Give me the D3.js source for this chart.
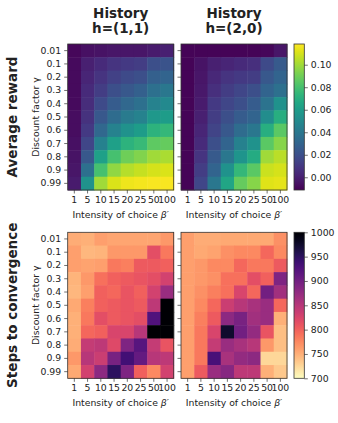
<!DOCTYPE html>
<html>
<head>
<meta charset="utf-8">
<script src="https://cdn.jsdelivr.net/npm/d3@7"></script>
<style>
  body { margin: 0; background: #fff; }
  svg text { font-family: "DejaVu Sans", sans-serif; fill: #222; }
</style>
</head>
<body>
<div id="chart"></div>
<script>
// axis categories
const betas = ["1", "5", "10", "15", "20", "25", "50", "100"];
const gammas = ["0.01", "0.1", "0.2", "0.3", "0.4", "0.5", "0.6", "0.7", "0.8", "0.9", "0.99"];
const historyTitles = ["h=(1,1)", "h=(2,0)"];

// average reward, rows = gamma, cols = beta
const rewardH11 = [
  [-0.009, -0.006, -0.005, -0.004, -0.004, -0.004, -0.002, 0.000],
  [-0.008, 0.000, 0.004, 0.008, 0.010, 0.012, 0.020, 0.022],
  [-0.008, 0.002, 0.008, 0.014, 0.018, 0.020, 0.028, 0.030],
  [-0.008, 0.004, 0.012, 0.020, 0.024, 0.028, 0.036, 0.040],
  [-0.008, 0.005, 0.018, 0.026, 0.032, 0.036, 0.046, 0.050],
  [-0.007, 0.007, 0.024, 0.034, 0.042, 0.046, 0.058, 0.060],
  [-0.007, 0.010, 0.032, 0.046, 0.055, 0.060, 0.072, 0.075],
  [-0.006, 0.016, 0.045, 0.062, 0.072, 0.076, 0.086, 0.088],
  [-0.005, 0.024, 0.062, 0.080, 0.090, 0.094, 0.100, 0.102],
  [-0.004, 0.036, 0.080, 0.097, 0.104, 0.107, 0.110, 0.111],
  [-0.002, 0.055, 0.100, 0.111, 0.115, 0.116, 0.117, 0.117]
];
const rewardH20 = [
  [-0.010, -0.010, -0.010, -0.010, -0.010, -0.010, -0.009, -0.004],
  [-0.010, -0.005, 0.000, 0.002, 0.004, 0.006, 0.018, 0.025],
  [-0.010, -0.004, 0.003, 0.008, 0.010, 0.012, 0.024, 0.030],
  [-0.010, -0.003, 0.006, 0.012, 0.016, 0.020, 0.030, 0.036],
  [-0.010, -0.002, 0.010, 0.016, 0.020, 0.026, 0.038, 0.055],
  [-0.010, 0.000, 0.012, 0.020, 0.026, 0.030, 0.052, 0.070],
  [-0.010, 0.002, 0.015, 0.024, 0.034, 0.040, 0.070, 0.085],
  [-0.010, 0.004, 0.020, 0.030, 0.045, 0.055, 0.085, 0.095],
  [-0.010, 0.008, 0.025, 0.040, 0.056, 0.068, 0.100, 0.105],
  [-0.010, 0.012, 0.030, 0.055, 0.075, 0.085, 0.108, 0.110],
  [-0.010, 0.016, 0.040, 0.065, 0.088, 0.095, 0.112, 0.113]
];

// steps to convergence
const stepsH11 = [
  [752, 750, 760, 757, 757, 757, 757, 765],
  [760, 745, 748, 765, 765, 765, 815, 785],
  [760, 758, 760, 785, 780, 805, 805, 800],
  [748, 765, 790, 800, 805, 810, 815, 830],
  [745, 760, 800, 795, 810, 800, 830, 870],
  [755, 780, 800, 805, 810, 805, 845, 1000],
  [750, 785, 815, 805, 810, 815, 925, 1000],
  [750, 795, 800, 825, 825, 850, 1000, 1000],
  [752, 840, 845, 820, 890, 920, 840, 810],
  [765, 850, 835, 895, 935, 910, 850, 845],
  [755, 830, 880, 950, 890, 800, 775, 830]
];
const stepsH20 = [
  [760, 752, 752, 755, 755, 755, 755, 770],
  [760, 755, 758, 770, 775, 775, 795, 775],
  [760, 765, 775, 775, 795, 785, 785, 805],
  [760, 765, 770, 790, 790, 815, 800, 890],
  [760, 770, 780, 790, 825, 795, 900, 865],
  [760, 775, 795, 835, 850, 860, 870, 795],
  [760, 780, 805, 880, 895, 865, 870, 750],
  [760, 785, 825, 975, 900, 875, 810, 740],
  [760, 785, 840, 870, 860, 850, 765, 740],
  [760, 785, 930, 860, 875, 880, 725, 725],
  [760, 805, 870, 885, 845, 845, 750, 735]
];

const rewardTicks = [0.00, 0.02, 0.04, 0.06, 0.08, 0.10];
const stepsTicks = [700, 750, 800, 850, 900, 950, 1000];

const width = 338, height = 423;
const panelX = [67.7, 181];
const panelW = 106, panelH = 146;
const rowY = [44, 232.3];
const cbX = 294, cbW = 10.3;
const tickFont = '9.3px';

const svg = d3.select('#chart').append('svg')
  .attr('width', width)
  .attr('height', height);

const x = d3.scaleBand().domain(betas).range([0, panelW]);
const y = d3.scaleBand().domain(gammas).range([0, panelH]);

const rewardColor = d3.scaleSequential(d3.interpolateViridis).domain([-0.0113, 0.1184]);
const stepsColor = d3.scaleSequential(d3.interpolateMagma).domain([1000, 700]);

const rows = [
  { label: 'Average reward', data: [rewardH11, rewardH20], color: rewardColor, ticks: rewardTicks,
    domain: [-0.0113, 0.1184], fmt: d3.format('.2f') },
  { label: 'Steps to convergence', data: [stepsH11, stepsH20], color: stepsColor, ticks: stepsTicks,
    domain: [700, 1000], fmt: d3.format('d') }
];

// column titles
historyTitles.forEach((t, i) => {
  const cx = panelX[i] + panelW / 2;
  const title = svg.append('text')
    .attr('x', cx)
    .attr('text-anchor', 'middle')
    .style('font-size', '13.5px')
    .style('font-weight', 'bold');
  title.append('tspan').attr('x', cx).attr('y', 17.5).text('History');
  title.append('tspan').attr('x', cx).attr('y', 32.5).text(t);
});

const defs = svg.append('defs');

rows.forEach((row, r) => {
  const top = rowY[r];

  // row label
  svg.append('text')
    .attr('transform', `translate(16.5,${top + panelH / 2}) rotate(-90)`)
    .attr('text-anchor', 'middle')
    .style('font-size', '13.5px')
    .style('font-weight', 'bold')
    .text(row.label);

  // y axis label
  svg.append('text')
    .attr('transform', `translate(38.5,${top + panelH / 2}) rotate(-90)`)
    .attr('text-anchor', 'middle')
    .style('font-size', tickFont)
    .text('Discount factor γ');

  row.data.forEach((grid, c) => {
    const g = svg.append('g').attr('transform', `translate(${panelX[c]},${top})`);

    const cells = [];
    grid.forEach((vals, gi) => vals.forEach((v, bi) => cells.push({ g: gammas[gi], b: betas[bi], v })));

    g.selectAll('rect.cell')
      .data(cells)
      .enter()
      .append('rect')
      .attr('class', 'cell')
      .attr('x', d => x(d.b))
      .attr('y', d => y(d.g))
      .attr('width', x.bandwidth() + 0.5)
      .attr('height', y.bandwidth() + 0.5)
      .attr('fill', d => row.color(d.v));

    g.append('rect')
      .attr('width', panelW)
      .attr('height', panelH)
      .attr('fill', 'none')
      .attr('stroke', '#333')
      .attr('stroke-width', 0.8);

    const yAxis = g.append('g')
      .call(d3.axisLeft(y).tickSize(3.5).tickFormat(c === 0 ? d => d : ''));
    yAxis.select('.domain').remove();
    yAxis.selectAll('line').attr('stroke', '#333').attr('stroke-width', 0.7);
    yAxis.selectAll('text').style('font-size', tickFont).attr('fill', '#222');

    const xAxis = g.append('g')
      .attr('transform', `translate(0,${panelH})`)
      .call(d3.axisBottom(x).tickSize(3.5));
    xAxis.select('.domain').remove();
    xAxis.selectAll('line').attr('stroke', '#333').attr('stroke-width', 0.7);
    xAxis.selectAll('text').style('font-size', tickFont).attr('fill', '#222').attr('dy', '0.72em');

    const xl = g.append('text')
      .attr('x', panelW / 2)
      .attr('y', panelH + 28)
      .attr('text-anchor', 'middle')
      .style('font-size', tickFont);
    xl.append('tspan').text('Intensity of choice ');
    xl.append('tspan').style('font-style', 'italic').text('β′');
  });

  // colorbar
  const gid = 'grad' + r;
  const grad = defs.append('linearGradient')
    .attr('id', gid)
    .attr('x1', 0).attr('y1', 1).attr('x2', 0).attr('y2', 0);
  d3.range(0, 1.0001, 0.05).forEach(t => {
    const v = row.domain[0] + t * (row.domain[1] - row.domain[0]);
    grad.append('stop').attr('offset', t).attr('stop-color', row.color(v));
  });

  const cb = svg.append('g').attr('transform', `translate(${cbX},${top})`);
  cb.append('rect')
    .attr('width', cbW)
    .attr('height', panelH)
    .attr('fill', `url(#${gid})`)
    .attr('stroke', '#333')
    .attr('stroke-width', 0.8);

  const cy = d3.scaleLinear().domain(row.domain).range([panelH, 0]);
  const cbAxis = cb.append('g')
    .attr('transform', `translate(${cbW},0)`)
    .call(d3.axisRight(cy).tickValues(row.ticks).tickFormat(row.fmt).tickSize(3.5));
  cbAxis.select('.domain').remove();
  cbAxis.selectAll('line').attr('stroke', '#333').attr('stroke-width', 0.7);
  cbAxis.selectAll('text').style('font-size', tickFont).attr('fill', '#222');
});
</script>
</body>
</html>
